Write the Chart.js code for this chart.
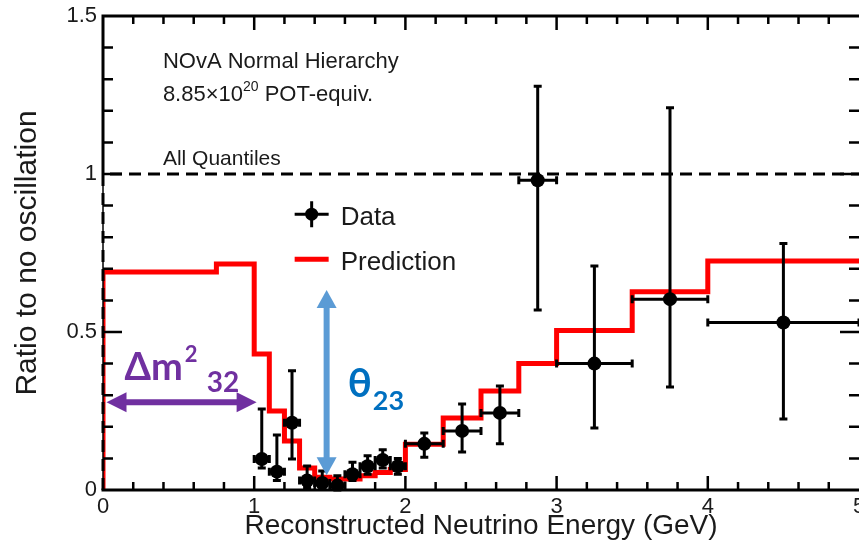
<!DOCTYPE html>
<html>
<head>
<meta charset="utf-8">
<script src="https://cdn.jsdelivr.net/npm/chart.js@4.4.0/dist/chart.umd.min.js"></script>
<style>
  html, body { margin: 0; padding: 0; background: #fff; }
  #wrap { width: 859px; height: 549px; position: relative; }
</style>
</head>
<body>
<div id="wrap"><canvas id="chart"></canvas></div>
<script>
// prediction histogram: bin edges (GeV) and ratio in each bin
const predEdges = [0, 0.75, 1.0, 1.1, 1.2, 1.3, 1.4, 1.5, 1.6, 1.7, 1.8, 1.9, 2.0, 2.25, 2.5, 2.75, 3.0, 3.5, 4.0, 5.0];
const predRatio = [0.69, 0.715, 0.43, 0.25, 0.155, 0.07, 0.04, 0.035, 0.035, 0.045, 0.055, 0.065, 0.145, 0.228, 0.313, 0.40, 0.505, 0.627, 0.725];

// data points with errors
const dataE     = [1.05, 1.15, 1.25, 1.35, 1.45, 1.55, 1.65, 1.75, 1.85, 1.95, 2.125, 2.375, 2.625, 2.875, 3.25, 3.75, 4.5];
const dataRatio = [0.098, 0.058, 0.213, 0.03, 0.022, 0.014, 0.05, 0.075, 0.095, 0.075, 0.146, 0.187, 0.244, 0.98, 0.40, 0.604, 0.53];
const dataLow   = [0.07, 0.03, 0.098, 0.008, 0.003, 0.0, 0.03, 0.05, 0.07, 0.05, 0.104, 0.12, 0.146, 0.57, 0.196, 0.326, 0.225];
const dataHigh  = [0.256, 0.174, 0.377, 0.076, 0.06, 0.045, 0.088, 0.108, 0.127, 0.1, 0.18, 0.272, 0.329, 1.278, 0.709, 1.21, 0.78];
const dataHalfW = [0.05, 0.05, 0.05, 0.05, 0.05, 0.05, 0.05, 0.05, 0.05, 0.05, 0.125, 0.125, 0.125, 0.125, 0.25, 0.25, 0.5];

// axis ticks
const xTicks = [0, 1, 2, 3, 4, 5];
const yTicks = [0, 0.5, 1, 1.5];

// where the annotations sit (in axis units)
const noteAt = {
  header: { x: 0.396, y: 1.335 },
  pot: { x: 0.396, y: 1.231 },
  quant: { x: 0.396, y: 1.028 },
  legend: { x: 1.38, y: 0.873 },
  dm: { x: 0.142, y: 0.348 },
  dmArrow: { x1: 0.023, x2: 1.016, y: 0.278 },
  theta: { x: 1.618, y: 0.294 },
  thArrow: { x: 1.479, y1: 0.633, y2: 0.047 }
};

const SANS = '"Liberation Sans", Arial, sans-serif';
const CAL = 'Lato, "Open Sans", "DejaVu Sans", sans-serif';

// build step points for the prediction line
const predPoints = [{ x: predEdges[0], y: 0 }];
predRatio.forEach((r, i) => predPoints.push({ x: predEdges[i], y: r }));
predPoints.push({ x: predEdges[predEdges.length - 1], y: predRatio[predRatio.length - 1] });

const dataPoints = dataE.map((e, i) => ({ x: e, y: dataRatio[i] }));

function arrowHead(ctx, tx, ty, dx, dy, len, half) {
  // tip at (tx,ty), pointing along (dx,dy)
  const px = -dy, py = dx;
  ctx.beginPath();
  ctx.moveTo(tx, ty);
  ctx.lineTo(tx - dx * len + px * half, ty - dy * len + py * half);
  ctx.lineTo(tx - dx * len - px * half, ty - dy * len - py * half);
  ctx.closePath();
  ctx.fill();
}

const histoExtras = {
  id: 'histoExtras',
  beforeDatasetDraw(chart, args) {
    if (args.index !== 0) return;
    const { ctx, scales: { x, y } } = chart;
    ctx.save();
    // dashed reference box at ratio 1
    ctx.strokeStyle = '#000';
    ctx.lineWidth = 3;
    ctx.setLineDash([12, 7]);
    ctx.beginPath();
    ctx.moveTo(x.getPixelForValue(0), y.getPixelForValue(0));
    ctx.lineTo(x.getPixelForValue(0), y.getPixelForValue(1));
    ctx.lineTo(x.getPixelForValue(5), y.getPixelForValue(1));
    ctx.stroke();
    ctx.setLineDash([]);

    // error bars
    ctx.lineWidth = 3;
    ctx.beginPath();
    dataE.forEach((e, i) => {
      const cx = x.getPixelForValue(e), cy = y.getPixelForValue(dataRatio[i]);
      const yl = y.getPixelForValue(dataLow[i]), yh = y.getPixelForValue(dataHigh[i]);
      const xl = x.getPixelForValue(e - dataHalfW[i]), xh = x.getPixelForValue(e + dataHalfW[i]);
      ctx.moveTo(cx, yl); ctx.lineTo(cx, yh);
      ctx.moveTo(cx - 4, yl); ctx.lineTo(cx + 4, yl);
      ctx.moveTo(cx - 4, yh); ctx.lineTo(cx + 4, yh);
      ctx.moveTo(xl, cy); ctx.lineTo(xh, cy);
      ctx.moveTo(xl, cy - 4); ctx.lineTo(xl, cy + 4);
      ctx.moveTo(xh, cy - 4); ctx.lineTo(xh, cy + 4);
    });
    ctx.stroke();
    ctx.restore();
  },
  afterDatasetsDraw(chart) {
    const { ctx, chartArea: a, scales: { x, y } } = chart;
    ctx.save();
    ctx.strokeStyle = '#000';
    // frame (left side below 1 is covered by the dashed line, right side is off the picture)
    ctx.lineWidth = 3;
    ctx.beginPath();
    ctx.moveTo(a.left, y.getPixelForValue(1));
    ctx.lineTo(a.left, a.top);
    ctx.lineTo(a.right, a.top);
    ctx.moveTo(a.right, a.bottom);
    ctx.lineTo(a.left - 1.5, a.bottom);
    ctx.stroke();
    ctx.lineWidth = 1.5;
    ctx.beginPath();
    ctx.moveTo(a.left, a.bottom);
    ctx.lineTo(a.left, y.getPixelForValue(1));
    ctx.stroke();

    // inward ticks on all four sides
    ctx.lineWidth = 2.5;
    ctx.beginPath();
    for (let i = 1; i < 25; i++) {
      const len = i % 5 === 0 ? 14 : 8;
      const px = x.getPixelForValue(i * 0.2);
      ctx.moveTo(px, a.bottom); ctx.lineTo(px, a.bottom - len);
      ctx.moveTo(px, a.top); ctx.lineTo(px, a.top + len);
    }
    for (let i = 1; i < 15; i++) {
      const len = i % 5 === 0 ? 19 : 10;
      const py = y.getPixelForValue(i * 0.1);
      ctx.moveTo(a.left, py); ctx.lineTo(a.left + len, py);
      ctx.moveTo(a.right, py); ctx.lineTo(a.right - len, py);
    }
    ctx.stroke();
    ctx.restore();
  },
  afterDraw(chart) {
    const { ctx, scales: { x, y } } = chart;
    const P = (o) => [x.getPixelForValue(o.x), y.getPixelForValue(o.y)];
    ctx.save();
    ctx.textBaseline = 'alphabetic';
    ctx.textAlign = 'left';
    ctx.fillStyle = '#1a1a1a';

    // header texts
    ctx.font = '22px ' + SANS;
    let [hx, hy] = P(noteAt.header);
    ctx.fillText('NOvA Normal Hierarchy', hx, hy);
    let [px, py] = P(noteAt.pot);
    ctx.fillText('8.85\u00d710', px, py);
    let w = ctx.measureText('8.85\u00d710').width;
    ctx.font = '14px ' + SANS;
    ctx.fillText('20', px + w, py - 10);
    const w2 = ctx.measureText('20').width;
    ctx.font = '22px ' + SANS;
    ctx.fillText(' POT-equiv.', px + w + w2, py);
    let [qx, qy] = P(noteAt.quant);
    ctx.font = '21px ' + SANS;
    ctx.fillText('All Quantiles', qx, qy);

    // legend
    const [lx, ly] = P(noteAt.legend);
    ctx.strokeStyle = '#000';
    ctx.lineWidth = 3;
    ctx.beginPath();
    ctx.moveTo(lx - 17, ly); ctx.lineTo(lx + 17, ly);
    ctx.moveTo(lx, ly - 13); ctx.lineTo(lx, ly + 13);
    ctx.stroke();
    ctx.fillStyle = '#000';
    ctx.beginPath();
    ctx.arc(lx, ly, 6.5, 0, Math.PI * 2);
    ctx.fill();
    ctx.strokeStyle = '#ff0000';
    ctx.lineWidth = 5;
    ctx.beginPath();
    ctx.moveTo(lx - 17, ly + 45); ctx.lineTo(lx + 17, ly + 45);
    ctx.stroke();
    ctx.fillStyle = '#1a1a1a';
    ctx.font = '26px ' + SANS;
    ctx.fillText('Data', lx + 29, ly + 11);
    ctx.fillText('Prediction', lx + 29, ly + 56);

    // delta m^2_32 annotation
    const purple = '#7030a0';
    const d1 = x.getPixelForValue(noteAt.dmArrow.x1), d2 = x.getPixelForValue(noteAt.dmArrow.x2);
    const dyy = y.getPixelForValue(noteAt.dmArrow.y);
    ctx.strokeStyle = purple;
    ctx.fillStyle = purple;
    ctx.lineWidth = 6;
    ctx.beginPath();
    ctx.moveTo(d1 + 15, dyy); ctx.lineTo(d2 - 15, dyy);
    ctx.stroke();
    arrowHead(ctx, d1, dyy, -1, 0, 20, 10);
    arrowHead(ctx, d2, dyy, 1, 0, 20, 10);
    const [mx, my] = P(noteAt.dm);
    ctx.font = 'bold 38px ' + CAL;
    ctx.fillText('\u0394m', mx, my);
    w = ctx.measureText('\u0394m').width;
    ctx.font = 'bold 22px ' + CAL;
    ctx.fillText('2', mx + w + 2, my - 18);
    ctx.font = 'bold 28px ' + CAL;
    ctx.fillText('32', mx + w + 24, my + 12);

    // theta_23 annotation
    const tx = x.getPixelForValue(noteAt.thArrow.x);
    const t1 = y.getPixelForValue(noteAt.thArrow.y1), t2 = y.getPixelForValue(noteAt.thArrow.y2);
    ctx.strokeStyle = '#5b9bd5';
    ctx.fillStyle = '#5b9bd5';
    ctx.lineWidth = 6;
    ctx.beginPath();
    ctx.moveTo(tx, t1 + 15); ctx.lineTo(tx, t2 - 15);
    ctx.stroke();
    arrowHead(ctx, tx, t1, 0, -1, 18, 10);
    arrowHead(ctx, tx, t2, 0, 1, 18, 10);
    const [thx, thy] = P(noteAt.theta);
    ctx.fillStyle = '#0070c0';
    ctx.font = 'bold 40px ' + CAL;
    ctx.fillText('\u03b8', thx, thy);
    w = ctx.measureText('\u03b8').width;
    ctx.font = 'bold 27px ' + CAL;
    ctx.fillText('23', thx + w + 1, thy + 13);
    ctx.restore();
  }
};

Chart.defaults.font.family = SANS;
Chart.defaults.color = '#1a1a1a';

new Chart(document.getElementById('chart'), {
  type: 'scatter',
  data: {
    datasets: [
      {
        label: 'Data',
        data: dataPoints,
        backgroundColor: '#000',
        borderColor: '#000',
        pointRadius: 7,
        pointHoverRadius: 7,
        pointBorderWidth: 0
      },
      {
        label: 'Prediction',
        type: 'line',
        data: predPoints,
        stepped: 'before',
        borderColor: '#ff0000',
        borderWidth: 5,
        pointRadius: 0,
        fill: false
      }
    ]
  },
  options: {
    responsive: true,
    maintainAspectRatio: false,
    animation: false,
    layout: { autoPadding: false, padding: { top: 16, right: 0, bottom: 0, left: 0 } },
    plugins: {
      legend: { display: false },
      tooltip: { enabled: false }
    },
    scales: {
      x: {
        type: 'linear',
        min: 0,
        max: 5,
        afterBuildTicks: (s) => { s.ticks = xTicks.map(v => ({ value: v })); },
        afterFit: (s) => { s.height = 59; s.paddingLeft = 0; s.paddingRight = 0; },
        grid: { display: false, drawTicks: false },
        border: { display: false },
        ticks: { padding: 4, font: { size: 22 }, maxRotation: 0, callback: (v) => String(v) },
        title: {
          display: true,
          text: 'Reconstructed Neutrino Energy (GeV)',
          font: { size: 28 },
          padding: { top: 0, bottom: 6 }
        }
      },
      y: {
        type: 'linear',
        min: 0,
        max: 1.5,
        afterBuildTicks: (s) => { s.ticks = yTicks.map(v => ({ value: v })); },
        afterFit: (s) => { s.width = 103; s.paddingTop = 0; s.paddingBottom = 0; },
        grid: { display: false, drawTicks: false },
        border: { display: false },
        ticks: { padding: 6, font: { size: 22 }, callback: (v) => String(v) },
        title: {
          display: true,
          text: 'Ratio to no oscillation',
          font: { size: 30 },
          padding: { top: 10, bottom: 0 }
        }
      }
    }
  },
  plugins: [histoExtras]
});
</script>
</body>
</html>
